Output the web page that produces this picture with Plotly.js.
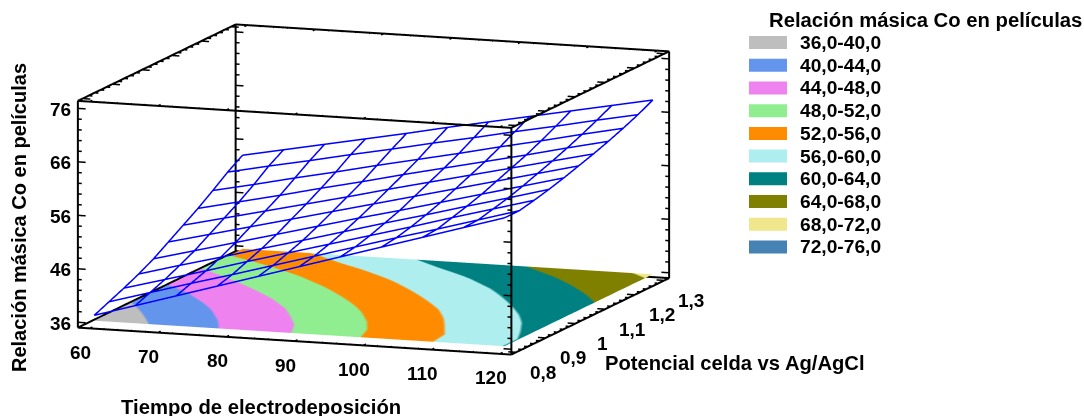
<!DOCTYPE html>
<html><head><meta charset="utf-8">
<script src="https://cdn.plot.ly/plotly-3.0.1.min.js"></script>
<style>html,body{margin:0;padding:0;background:#fff}#g{width:1084px;height:416px}</style>
</head><body><div id="g"></div>
<script>
const tiempo=[60,66,72,78,84,90,96,102,108,114,120];
const potencial=[0.8,0.85,0.9,0.95,1.0,1.05,1.1,1.15,1.2,1.25,1.3];
const relacion=[
[37.0,39.3,41.6,43.9,46.2,48.5,50.8,53.1,55.4,57.7,60.0],
[38.2,40.4,42.6,44.7,46.9,49.1,51.3,53.5,55.6,57.8,60.0],
[39.4,41.5,43.6,45.8,47.9,50.0,52.1,54.2,56.4,58.5,60.6],
[40.7,42.8,44.8,46.9,48.9,51.0,53.1,55.1,57.2,59.2,61.3],
[42.2,44.2,46.2,48.2,50.2,52.2,54.1,56.1,58.1,60.1,62.1],
[44.0,45.9,47.8,49.7,51.6,53.5,55.4,57.3,59.2,61.1,63.0],
[45.8,47.6,49.4,51.2,53.0,54.9,56.7,58.5,60.3,62.1,63.9],
[47.6,49.3,51.0,52.8,54.5,56.3,58.0,59.7,61.4,63.2,64.9],
[49.6,51.2,52.9,54.5,56.2,57.8,59.4,61.1,62.7,64.4,66.0],
[51.7,53.3,54.8,56.4,57.9,59.5,61.0,62.6,64.1,65.7,67.2],
[53.5,55.0,56.5,58.0,59.5,61.1,62.6,64.1,65.6,67.1,68.6]];
const bandas=['36,0-40,0','40,0-44,0','44,0-48,0','48,0-52,0','52,0-56,0','56,0-60,0','60,0-64,0','64,0-68,0','68,0-72,0','72,0-76,0'];
const colores=['#BEBEBE','#6495ED','#EE82EE','#90EE90','#FF8C00','#AFEEEE','#008080','#808000','#F0E68C','#4682B4'];
const xTicks=[60,70,80,90,100,110,120];
const yTicks=[0.8,0.9,1.0,1.1,1.2,1.3];
const yTickText=['0,8','0,9','1','1,1','1,2','1,3'];
const zTicks=[36,46,56,66,76];
const xRange=[58.3,121.7], yRange=[0.784,1.316], zRange=[35,77.4];
const zBase=36, cmin=36, cmax=76;

const W=1084,H=416;
const FONT='"Liberation Sans", Arial, sans-serif';
function seg(o,a,b){o.x.push(a[0],b[0],null);o.y.push(a[1],b[1],null);o.z.push(a[2],b[2],null);}
const [x0,x1]=xRange,[y0,y1]=yRange,[z0,z1]=zRange;

const box={x:[],y:[],z:[]};
[[x0,y0],[x0,y1],[x1,y0],[x1,y1]].forEach(p=>seg(box,[p[0],p[1],z0],[p[0],p[1],z1]));
seg(box,[x0,y0,z1],[x1,y0,z1]);seg(box,[x0,y1,z1],[x1,y1,z1]);
seg(box,[x0,y0,z1],[x0,y1,z1]);seg(box,[x1,y0,z1],[x1,y1,z1]);
seg(box,[x0,y0,z0],[x1,y0,z0]);seg(box,[x1,y0,z0],[x1,y1,z0]);
seg(box,[x0,y0,z0],[x0,y1,z0]);seg(box,[x0,y1,z0],[x1,y1,z0]);

const tk={x:[],y:[],z:[]};
const dxM=(x1-x0)*0.018,dxm=dxM*0.5,dyM=(y1-y0)*0.018,dym=dyM*0.5;
for(let v=36;v<=z1+1e-9;v+=2){
  const maj=(v-36)%10===0, d=maj?dxM:dxm;
  seg(tk,[x0,y0,v],[x0+d,y0,v]);seg(tk,[x0,y1,v],[x0+d,y1,v]);
  seg(tk,[x1,y0,v],[x1-d,y0,v]);seg(tk,[x1,y1,v],[x1-d,y1,v]);
}
for(let v=60;v<=120+1e-9;v+=2){
  const maj=(v-60)%10===0, d=maj?dyM:dym;
  seg(tk,[v,y0,z0],[v,y0+d,z0]);seg(tk,[v,y0,z1],[v,y0+d,z1]);seg(tk,[v,y1,z1],[v,y1-d,z1]);
}
for(let i=0;i<=25;i++){
  const v=0.8+i*0.02, maj=i%5===0, d=maj?dxM:dxm;
  seg(tk,[x1,v,z0],[x1-d,v,z0]);seg(tk,[x1,v,z1],[x1-d,v,z1]);seg(tk,[x0,v,z1],[x0+d,v,z1]);
}

const wire={x:[],y:[],z:[]};
potencial.forEach((p,j)=>{tiempo.forEach((t,i)=>{wire.x.push(t);wire.y.push(p);wire.z.push(relacion[j][i]);});wire.x.push(null);wire.y.push(null);wire.z.push(null);});
tiempo.forEach((t,i)=>{potencial.forEach((p,j)=>{wire.x.push(t);wire.y.push(p);wire.z.push(relacion[j][i]);});wire.x.push(null);wire.y.push(null);wire.z.push(null);});

const scale=[];
colores.forEach((c,i)=>{scale.push([i/colores.length,c]);scale.push([(i+1)/colores.length,c]);});

const traces=[
 {type:'surface',x:tiempo,y:potencial,z:relacion.map(r=>r.map(()=>zBase)),surfacecolor:relacion,
  colorscale:scale,cmin:cmin,cmax:cmax,showscale:false,hoverinfo:'skip',
  lighting:{ambient:1,diffuse:0,specular:0,roughness:1,fresnel:0},
  contours:{x:{highlight:false},y:{highlight:false},z:{highlight:false}}},
 {type:'scatter3d',mode:'lines',...wire,line:{color:'#0000FF',width:3},hoverinfo:'skip',showlegend:false},
 {type:'scatter3d',mode:'lines',...box,line:{color:'#000',width:4},hoverinfo:'skip',showlegend:false},
 {type:'scatter3d',mode:'lines',...tk,line:{color:'#000',width:3},hoverinfo:'skip',showlegend:false}
];

const tickFont={family:FONT,size:19,color:'#000'};
const sceneAnn=[];
xTicks.forEach(v=>sceneAnn.push({x:v,y:y0,z:z0,text:'<b>'+v+'</b>',showarrow:false,font:tickFont,xshift:-9,yshift:-24}));
yTicks.forEach((v,i)=>sceneAnn.push({x:x1,y:v,z:z0,text:'<b>'+yTickText[i]+'</b>',showarrow:false,font:tickFont,xshift:27,yshift:-20}));
zTicks.forEach(v=>sceneAnn.push({x:x0,y:y0,z:v,text:'<b>'+v+'</b>',showarrow:false,font:tickFont,xshift:-17,yshift:-1}));

const pad=0.005;
const padded=r=>[r[0]-pad*(r[1]-r[0]),r[1]+pad*(r[1]-r[0])];
const ax=r=>({range:padded(r),autorange:false,visible:false,showgrid:false,zeroline:false,showline:false,showticklabels:false,showbackground:false,showspikes:false,title:{text:''}});
const px=x=>x/W, py=y=>1-y/H;
const ann=(x,y,text,size,extra)=>Object.assign({xref:'paper',yref:'paper',x:px(x),y:py(y),xanchor:'center',yanchor:'middle',text:'<b>'+text+'</b>',showarrow:false,font:{family:FONT,size:size,color:'#000'}},extra||{});
const annotations=[
 ann(925,20,'Relación másica Co en películas',20.3),
 ann(261,407,'Tiempo de electrodeposición',20.3),
 ann(735,363,'Potencial celda vs Ag/AgCl',20.2),
 ann(19,218,'Relación másica Co en películas',20),
];
annotations[3].textangle=-90;
const shapes=[];
bandas.forEach((b,i)=>{
  const yc=42.5+i*22.72;
  shapes.push({type:'rect',xref:'paper',yref:'paper',x0:px(749),x1:px(787),y0:py(yc-6.5),y1:py(yc+6.5),fillcolor:colores[i],line:{width:0}});
  annotations.push(ann(798,yc,b,19.2,{xanchor:'left'}));
});

const cx=373.5,cy=189.5, k=1+2*pad;
const layout={width:W,height:H,margin:{l:0,r:0,t:0,b:0},paper_bgcolor:'#fff',showlegend:false,
 annotations,shapes,
 scene:{domain:{x:[0,2*cx/W],y:[1-2*cy/H,1]},aspectmode:'manual',aspectratio:{x:2.43*k,y:2.47*k,z:1.215*k},
  xaxis:ax(xRange),yaxis:ax(yRange),zaxis:ax(zRange),bgcolor:'#fff',dragmode:false,hovermode:false,
  camera:{projection:{type:'orthographic'},center:{x:0,y:0,z:0},up:{x:0,y:0,z:1},eye:{x:2.656,y:-7.416,z:1.388}},
  annotations:sceneAnn}};
Plotly.newPlot('g',traces,layout,{displayModeBar:false,scrollZoom:false});
</script></body></html>
